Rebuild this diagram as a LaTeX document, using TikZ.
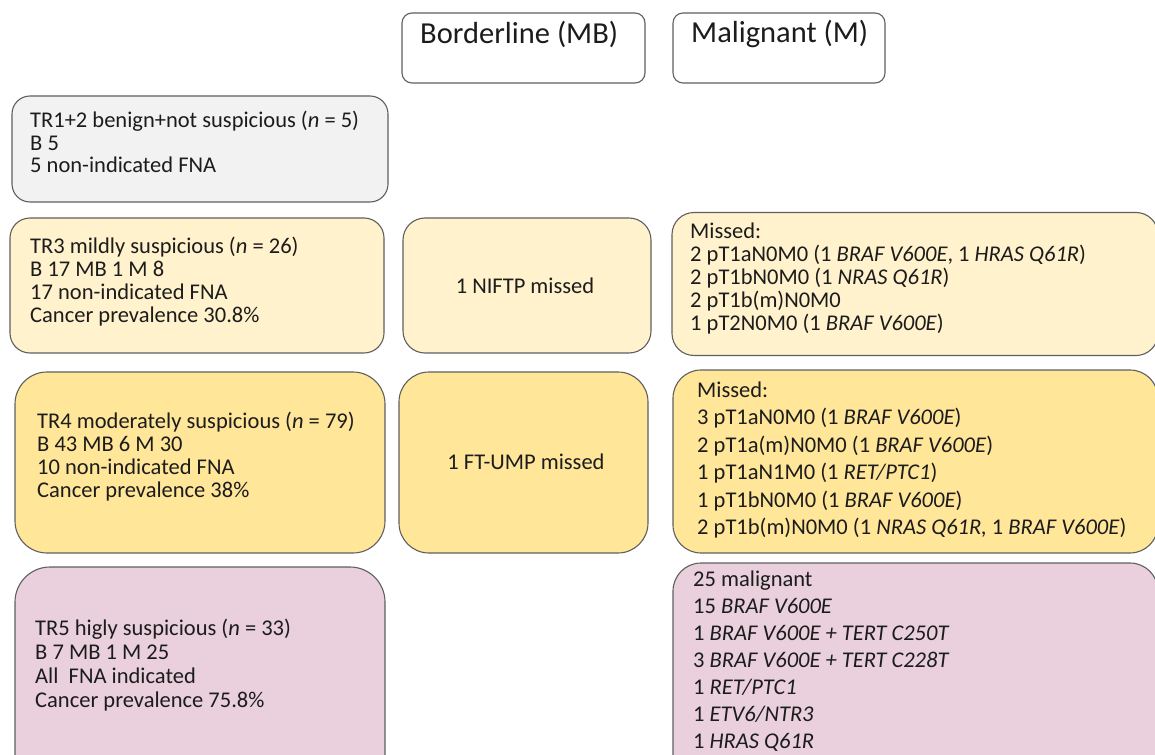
\documentclass[tikz,border=0pt]{standalone}
\usepackage{fontspec}
\setmainfont{Carlito}
\definecolor{bordc}{HTML}{5F5F5F}
\definecolor{textc}{HTML}{1C1C1C}
\definecolor{gr}{HTML}{F2F2F2}
\definecolor{ylight}{HTML}{FFF2CC}
\definecolor{ymid}{HTML}{FFE699}
\definecolor{pink}{HTML}{E9D0DC}
\tikzset{
  box/.style={draw=bordc, line width=1.1pt, rounded corners=#1, inner sep=0pt},
  txt/.style={inner sep=0pt, align=left, anchor=west, text=textc, font=\fontsize{22.5}{#1}\selectfont},
  ctxt/.style={inner sep=0pt, align=center, anchor=center, text=textc, font=\fontsize{22.5}{24}\selectfont},
  htxt/.style={inner sep=0pt, anchor=west, text=textc, font=\fontsize{30.5}{34}\selectfont}
}
\begin{document}
\begin{tikzpicture}[x=1pt,y=-1pt]
\useasboundingbox (0,0) rectangle (1155,754);
\clip (0,0) rectangle (1155,754);
% headers
\node[box=10, fill=white, minimum width=243pt, minimum height=70pt] (hb) at (523.5,48) {};
\node[box=10, fill=white, minimum width=212pt, minimum height=70pt] (hm) at (779,48) {};
\node[htxt] (thb) at (420,34) {Borderline (MB)};
\node[htxt] (thm) at (691,34) {Malignant (M)};
% TR1+2
\node[box=18, fill=gr, minimum width=376pt, minimum height=106pt] (b12) at (200,149) {};
\node[txt=22.5] (t12) at (30,142) {TR1+2 benign+not suspicious (\textit{n} = 5)\\B 5\\5 non-indicated FNA};
% TR3 row
\node[box=20, fill=ylight, minimum width=374pt, minimum height=135pt] (b3) at (197,285.5) {};
\node[txt=23] (t3) at (30,282) {TR3 mildly suspicious (\textit{n} = 26)\\B 17 MB 1 M 8\\17 non-indicated FNA\\Cancer prevalence 30.8\%};
\node[box=22, fill=ylight, minimum width=248pt, minimum height=135pt] (bn) at (527,285.5) {};
\node[ctxt] (tn) at (525,286) {1 NIFTP missed};
\node[box=22, fill=ylight, minimum width=486pt, minimum height=143pt] (m3) at (915,284) {};
\node[txt=23] (tm3) at (690,278) {Missed:\\2 pT1aN0M0 (1 \textit{BRAF V600E}, 1 \textit{HRAS Q61R})\\2 pT1bN0M0 (1 \textit{NRAS Q61R})\\2 pT1b(m)N0M0\\1 pT2N0M0 (1 \textit{BRAF V600E})};
% TR4 row
\node[box=32, fill=ymid, minimum width=370pt, minimum height=181pt] (b4) at (200,462.5) {};
\node[txt=23] (t4) at (37,457) {TR4 moderately suspicious (\textit{n} = 79)\\B 43 MB 6 M 30\\10 non-indicated FNA\\Cancer prevalence 38\%};
\node[box=30, fill=ymid, minimum width=249pt, minimum height=181pt] (bf) at (523.5,462.5) {};
\node[ctxt] (tf) at (526,462) {1 FT-UMP missed};
\node[box=28, fill=ymid, minimum width=485pt, minimum height=183pt] (m4) at (915.5,461.5) {};
\node[txt=27.5] (tm4) at (697,460) {Missed:\\3 pT1aN0M0 (1 \textit{BRAF V600E})\\2 pT1a(m)N0M0 (1 \textit{BRAF V600E})\\1 pT1aN1M0 (1 \textit{RET/PTC1})\\1 pT1bN0M0 (1 \textit{BRAF V600E})\\2 pT1b(m)N0M0 (1 \textit{NRAS Q61R,} 1 \textit{BRAF V600E})};
% TR5 row
\node[box=35, fill=pink, minimum width=370pt, minimum height=223pt] (b5) at (200,678.5) {};
\node[txt=24] (t5) at (35,665) {TR5 higly suspicious (\textit{n} = 33)\\B 7 MB 1 M 25\\All\ \ FNA indicated\\Cancer prevalence 75.8\%};
\node[box=28, fill=pink, minimum width=485pt, minimum height=227pt] (m5) at (915.5,676.5) {};
\node[txt=27] (tm5) at (693,661) {25 malignant\\15 \textit{BRAF V600E}\\1 \textit{BRAF V600E + TERT C250T}\\3 \textit{BRAF V600E + TERT C228T}\\1 \textit{RET/PTC1}\\1 \textit{ETV6/NTR3}\\1 \textit{HRAS Q61R}};
\end{tikzpicture}
\end{document}
